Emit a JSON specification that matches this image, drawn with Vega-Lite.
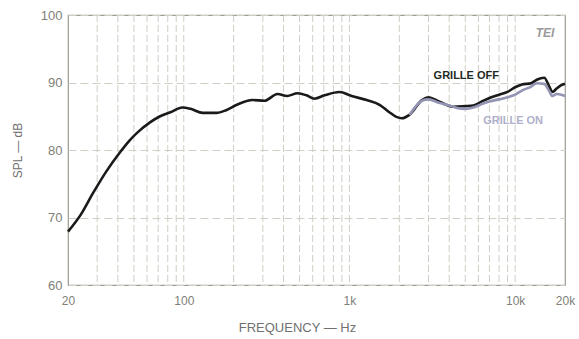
{
  "$schema": "https://vega.github.io/schema/vega-lite/v6.json",
  "width": 497,
  "height": 270,
  "autosize": "none",
  "padding": {"left": 68, "top": 15, "right": 14, "bottom": 54},
  "background": "white",
  "config": {
    "view": {"stroke": "#9a9a90", "strokeWidth": 1.2},
    "font": "Liberation Sans"
  },
  "datasets": {
    "curves": [
      {"f": 20, "db": 67.9, "s": "off"}, {"f": 24, "db": 70.5, "s": "off"}, {"f": 28.3, "db": 73.6, "s": "off"},
      {"f": 34, "db": 76.8, "s": "off"}, {"f": 41, "db": 79.6, "s": "off"}, {"f": 47, "db": 81.4, "s": "off"},
      {"f": 52, "db": 82.5, "s": "off"}, {"f": 62.5, "db": 84.1, "s": "off"}, {"f": 72, "db": 85.0, "s": "off"},
      {"f": 83, "db": 85.6, "s": "off"}, {"f": 98, "db": 86.3, "s": "off"}, {"f": 110, "db": 86.1, "s": "off"},
      {"f": 130, "db": 85.5, "s": "off"}, {"f": 157, "db": 85.5, "s": "off"}, {"f": 180, "db": 85.9, "s": "off"},
      {"f": 209, "db": 86.7, "s": "off"}, {"f": 260, "db": 87.4, "s": "off"}, {"f": 307, "db": 87.3, "s": "off"},
      {"f": 368, "db": 88.3, "s": "off"}, {"f": 420, "db": 88.0, "s": "off"}, {"f": 486, "db": 88.4, "s": "off"},
      {"f": 550, "db": 88.1, "s": "off"}, {"f": 615, "db": 87.6, "s": "off"}, {"f": 707, "db": 88.1, "s": "off"},
      {"f": 870, "db": 88.6, "s": "off"}, {"f": 1030, "db": 88.0, "s": "off"}, {"f": 1270, "db": 87.4, "s": "off"},
      {"f": 1520, "db": 86.7, "s": "off"}, {"f": 1740, "db": 85.6, "s": "off"}, {"f": 1920, "db": 84.9, "s": "off"},
      {"f": 2070, "db": 84.7, "s": "off"}, {"f": 2300, "db": 85.2, "s": "off"}, {"f": 2740, "db": 87.4, "s": "off"},
      {"f": 3000, "db": 87.8, "s": "off"}, {"f": 3460, "db": 87.2, "s": "off"}, {"f": 4250, "db": 86.4, "s": "off"},
      {"f": 5000, "db": 86.5, "s": "off"}, {"f": 5600, "db": 86.6, "s": "off"}, {"f": 6300, "db": 87.2, "s": "off"},
      {"f": 7000, "db": 87.7, "s": "off"}, {"f": 8000, "db": 88.2, "s": "off"}, {"f": 9000, "db": 88.6, "s": "off"},
      {"f": 10000, "db": 89.3, "s": "off"}, {"f": 11000, "db": 89.7, "s": "off"}, {"f": 12500, "db": 89.9, "s": "off"},
      {"f": 13500, "db": 90.4, "s": "off"}, {"f": 15000, "db": 90.7, "s": "off"}, {"f": 16000, "db": 89.5, "s": "off"},
      {"f": 16800, "db": 88.6, "s": "off"}, {"f": 17800, "db": 89.1, "s": "off"}, {"f": 19000, "db": 89.6, "s": "off"},
      {"f": 20000, "db": 89.8, "s": "off"},
      {"f": 2300, "db": 85.2, "s": "on"}, {"f": 2740, "db": 87.3, "s": "on"}, {"f": 3000, "db": 87.5, "s": "on"},
      {"f": 3460, "db": 87.0, "s": "on"}, {"f": 4000, "db": 86.6, "s": "on"}, {"f": 4500, "db": 86.2, "s": "on"},
      {"f": 5000, "db": 86.1, "s": "on"}, {"f": 5600, "db": 86.3, "s": "on"}, {"f": 6300, "db": 86.8, "s": "on"},
      {"f": 7000, "db": 87.2, "s": "on"}, {"f": 8000, "db": 87.5, "s": "on"}, {"f": 9000, "db": 87.8, "s": "on"},
      {"f": 10000, "db": 88.2, "s": "on"}, {"f": 11000, "db": 88.8, "s": "on"}, {"f": 12500, "db": 89.4, "s": "on"},
      {"f": 13500, "db": 89.9, "s": "on"}, {"f": 15000, "db": 89.8, "s": "on"}, {"f": 16000, "db": 88.8, "s": "on"},
      {"f": 16800, "db": 88.0, "s": "on"}, {"f": 17800, "db": 88.3, "s": "on"}, {"f": 19000, "db": 88.2, "s": "on"},
      {"f": 20000, "db": 88.0, "s": "on"}
    ],
    "grid": [
      {"f": 30}, {"f": 40}, {"f": 50}, {"f": 60}, {"f": 70}, {"f": 80}, {"f": 90}, {"f": 100},
      {"f": 200}, {"f": 300}, {"f": 400}, {"f": 500}, {"f": 600}, {"f": 700}, {"f": 800}, {"f": 900}, {"f": 1000},
      {"f": 2000}, {"f": 3000}, {"f": 4000}, {"f": 5000}, {"f": 6000}, {"f": 7000}, {"f": 8000}, {"f": 9000}, {"f": 10000}
    ],
    "labels": [
      {"f": 5070, "db": 91.0, "t": "GRILLE OFF", "s": "off"},
      {"f": 9720, "db": 84.3, "t": "GRILLE ON", "s": "on"}
    ]
  },
  "layer": [
    {
      "data": {"name": "grid"},
      "mark": {"type": "rule", "color": "#cfcfc6", "strokeWidth": 1, "strokeDash": [7, 3]},
      "encoding": {
        "x": {"field": "f", "type": "quantitative", "scale": {"type": "log", "domain": [20, 20000], "nice": false}}
      }
    },
    {
      "data": {"name": "curves"},
      "mark": {"type": "line", "strokeWidth": 2.6, "interpolate": "monotone"},
      "encoding": {
        "x": {
          "field": "f", "type": "quantitative",
          "scale": {"type": "log", "domain": [20, 20000], "nice": false},
          "axis": {
            "values": [20, 100, 1000, 10000, 20000],
            "labelExpr": "datum.value >= 1000 ? format(datum.value/1000, 'd') + 'k' : format(datum.value, 'd')",
            "grid": false, "ticks": false, "domain": false,
            "labelColor": "#808078", "labelFontSize": 12, "labelPadding": 10,
            "labelFlush": false,
            "title": "FREQUENCY — Hz", "titleColor": "#707070", "titleFontSize": 13,
            "titleFontWeight": "normal", "titlePadding": 15, "titleX": 229
          }
        },
        "y": {
          "field": "db", "type": "quantitative",
          "scale": {"domain": [60, 100], "nice": false, "zero": false},
          "axis": {
            "values": [60, 70, 80, 90, 100],
            "grid": true, "gridColor": "#cfcfc6", "gridDash": [8, 4], "gridWidth": 1,
            "ticks": false, "domain": false,
            "labelColor": "#808078", "labelFontSize": 13, "labelPadding": 6,
            "title": "SPL — dB", "titleColor": "#707070", "titleFontSize": 12,
            "titleFontWeight": "normal", "titlePadding": 16
          }
        },
        "color": {
          "field": "s", "type": "nominal",
          "scale": {"domain": ["on", "off"], "range": ["#9494b4", "#1a1a1a"]},
          "legend": null
        },
        "order": {"field": "s", "sort": "descending"}
      }
    },
    {
      "data": {"name": "labels"},
      "mark": {"type": "text", "fontSize": 11, "fontWeight": "bold", "align": "center", "baseline": "middle"},
      "encoding": {
        "x": {"field": "f", "type": "quantitative", "scale": {"type": "log", "domain": [20, 20000], "nice": false}},
        "y": {"field": "db", "type": "quantitative"},
        "text": {"field": "t"},
        "color": {
          "field": "s", "type": "nominal",
          "scale": {"domain": ["on", "off"], "range": ["#b0b0cc", "#1f2a1f"]},
          "legend": null
        }
      }
    },
    {
      "data": {"values": [{"f": 15170, "db": 97.3, "t": "TEI"}]},
      "mark": {"type": "text", "fontSize": 12, "fontStyle": "italic", "fontWeight": "bold", "color": "#9a9a9a", "align": "center", "baseline": "middle"},
      "encoding": {
        "x": {"field": "f", "type": "quantitative", "scale": {"type": "log", "domain": [20, 20000], "nice": false}},
        "y": {"field": "db", "type": "quantitative"},
        "text": {"field": "t"}
      }
    }
  ],
  "resolve": {"scale": {"color": "independent"}}
}
